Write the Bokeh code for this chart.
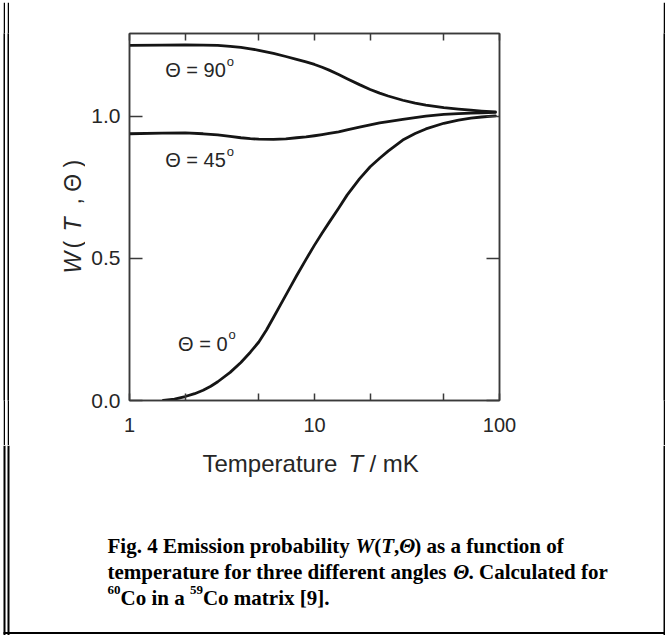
import math
from bokeh.plotting import figure
from bokeh.layouts import column, row
from bokeh.models import Range1d, FixedTicker, LinearAxis, LogAxis, Label
from bokeh.embed import file_html
from bokeh.resources import INLINE

# ---------------- data ----------------
T_common = [1, 1.5, 2, 2.5, 3, 3.5, 4, 4.5, 5, 6, 7, 8, 9, 10, 11, 12, 13.5, 15, 17.5, 20,
            22.5, 25, 30, 35, 40, 50, 60, 70, 80, 95]
W_90 = [1.250, 1.251, 1.252, 1.251, 1.250, 1.247, 1.243, 1.238, 1.233, 1.222, 1.211, 1.201,
        1.192, 1.183, 1.173, 1.163, 1.148, 1.133, 1.112, 1.095, 1.082, 1.072, 1.057, 1.047,
        1.040, 1.031, 1.026, 1.022, 1.019, 1.016]
W_45 = [0.939, 0.941, 0.942, 0.939, 0.935, 0.930, 0.925, 0.922, 0.920, 0.919, 0.921, 0.925,
        0.928, 0.932, 0.936, 0.940, 0.946, 0.953, 0.962, 0.970, 0.977, 0.982, 0.990, 0.996,
        1.001, 1.007, 1.010, 1.012, 1.013, 1.014]
T_0 = [1.52, 1.75, 2, 2.25, 2.5, 2.75, 3, 3.5, 4, 4.5, 5, 5.5, 6, 6.5, 7, 7.5, 8, 9, 10, 11,
       12, 13.5, 15, 17.5, 20, 22.5, 25, 30, 35, 40, 50, 60, 70, 80, 95]
W_0 = [0.000, 0.005, 0.014, 0.024, 0.036, 0.050, 0.066, 0.099, 0.134, 0.170, 0.206, 0.248,
       0.292, 0.333, 0.371, 0.406, 0.439, 0.497, 0.547, 0.590, 0.627, 0.677, 0.723, 0.780,
       0.823, 0.853, 0.878, 0.917, 0.940, 0.956, 0.976, 0.987, 0.994, 0.998, 1.002]

curve_labels = ["90", "45", "0"]
curve_label_pos = [(1.56, 1.162), (1.56, 0.845), (1.83, 0.200)]

x_ticks = [1, 10, 100]
x_minor_ticks = [2, 5, 20, 50]
x_tick_labels = ["1", "10", "100"]
y_ticks = [0.0, 0.5, 1.0]
y_tick_labels = ["0.0", "0.5", "1.0"]

X_MIN, X_MAX = 1, 100
Y_MIN, Y_MAX = 0.0, 1.292

# ---------------- layout (page pixels) ----------------
PW, PH = 665, 635
TOP_H = 2                 # top border strip
MID_BOTTOM = 445          # bottom of the plot row; caption panel below
FL, FR, FT, FB = 129, 499, 33, 400   # plot frame
LEFT_STRIPS = [("white", 3), ("black", 2), ("white", 2), ("black", 2)]   # double line
TEXT_X0, TEXT_X1 = 9, 85  # panel holding the y-axis title
RIGHT_W = 2
SANS = "Liberation Sans"
SERIF = "Liberation Serif"
AX = "#3a3a3a"
TXT = "#262626"
MID_H = MID_BOTTOM - TOP_H


def solid(w, h, color):
    """a figure that is one flat colour (used for the border lines)"""
    f = figure(width=w, height=h, x_range=Range1d(0, 1), y_range=Range1d(0, 1),
               output_backend="svg", toolbar_location=None, min_border=0,
               x_axis_location=None, y_axis_location=None)
    f.xgrid.visible = False
    f.ygrid.visible = False
    f.outline_line_color = None
    f.background_fill_color = color
    f.border_fill_color = color
    return f


def panel(w, h, x0, x1, y_top, y_bot, mb_top=0, mb_bot=0):
    """blank figure, data units = page pixels (y down)"""
    f = figure(width=w, height=h, x_range=Range1d(x0, x1), y_range=Range1d(y_bot, y_top),
               output_backend="svg", toolbar_location=None, min_border=0,
               min_border_top=mb_top, min_border_bottom=mb_bot,
               x_axis_location=None, y_axis_location=None)
    f.xgrid.visible = False
    f.ygrid.visible = False
    f.outline_line_color = None
    f.background_fill_color = "white"
    f.border_fill_color = "white"
    return f


def lab(f, px, py, text, font=SANS, size="23px", style="normal", color=TXT, angle=0.0):
    f.add_layout(Label(x=px, y=py, text=text, text_font=font, text_font_size=size,
                       text_font_style=style, text_color=color, text_align="left",
                       text_baseline="alphabetic", angle=angle))


# --- top border strip ---
top_row = row(*[solid(w, TOP_H, c) for c, w in LEFT_STRIPS],
              solid(PW - sum(w for _, w in LEFT_STRIPS), TOP_H, "black"))

# --- left: double line + y-axis title ---
left_strips = [solid(w, MID_H, c) for c, w in LEFT_STRIPS]
ytitle = panel(TEXT_X1 - TEXT_X0, MID_H, TEXT_X0, TEXT_X1, FT, FB,
               mb_top=FT - TOP_H, mb_bot=MID_BOTTOM - FB)
yl_parts = [("W", "italic", 273), ("(", "normal", 248), ("T", "italic", 231),
            (", \u0398 )", "normal", 204)]
for txt, sty, ypos in yl_parts:
    lab(ytitle, 72, ypos, txt, style=sty, angle=math.pi / 2)

# --- main plot ---
main_w = PW - TEXT_X1 - RIGHT_W
p = figure(width=main_w, height=MID_H, x_axis_type="log",
           x_range=Range1d(X_MIN, X_MAX), y_range=Range1d(Y_MIN, Y_MAX),
           output_backend="svg", toolbar_location=None,
           min_border_left=FL - TEXT_X1, min_border_right=(TEXT_X1 + main_w) - FR,
           min_border_top=FT - TOP_H, min_border_bottom=MID_BOTTOM - FB)
p.xgrid.visible = False
p.ygrid.visible = False
p.outline_line_color = AX
p.outline_line_width = 1.5
p.background_fill_color = "white"
p.border_fill_color = "white"


def style_axis(ax, tick_in, label_size="20px"):
    ax.axis_line_color = AX
    ax.axis_line_width = 1.5
    ax.major_tick_line_color = AX
    ax.major_tick_line_width = 1.5
    ax.minor_tick_line_color = AX
    ax.minor_tick_line_width = 1.5
    ax.major_tick_in = tick_in
    ax.major_tick_out = 0
    ax.minor_tick_in = tick_in
    ax.minor_tick_out = 0
    ax.major_label_text_font = SANS
    ax.major_label_text_font_size = label_size
    ax.major_label_text_color = TXT


bx = p.xaxis[0]
bx.ticker = FixedTicker(ticks=x_ticks, minor_ticks=x_minor_ticks)
bx.major_label_overrides = {t: s for t, s in zip(x_ticks, x_tick_labels)}
style_axis(bx, 7)
bx.major_label_standoff = 17

ly = p.yaxis[0]
ly.ticker = FixedTicker(ticks=y_ticks, minor_ticks=[])
ly.major_label_overrides = {t: s for t, s in zip(y_ticks, y_tick_labels)}
style_axis(ly, 13, "21px")
ly.major_label_standoff = 9

top_ax = LogAxis(ticker=FixedTicker(ticks=x_ticks, minor_ticks=x_minor_ticks),
                 major_label_overrides={t: "" for t in x_ticks})
style_axis(top_ax, 7, "1px")
top_ax.major_label_standoff = 0
p.add_layout(top_ax, "above")

right_ax = LinearAxis(ticker=FixedTicker(ticks=y_ticks, minor_ticks=[]),
                      major_label_overrides={t: "" for t in y_ticks})
style_axis(right_ax, 13, "1px")
p.add_layout(right_ax, "right")

for xs, ys in [(T_common, W_90), (T_common, W_45), (T_0, W_0)]:
    p.line(xs, ys, line_color="#151515", line_width=2.8, line_join="round", line_cap="round")

CL = 20
for deg, (tx, wy) in zip(curve_labels, curve_label_pos):
    p.add_layout(Label(x=tx, y=wy, text="\u0398 = " + deg, text_font=SANS,
                       text_font_size="%dpx" % CL, text_color=TXT, text_align="left",
                       text_baseline="alphabetic"))
    wpx = (0.778 + 0.278 + 0.584 + 0.278 + 0.556 * len(deg)) * CL
    p.add_layout(Label(x=tx, y=wy, x_offset=wpx + 1, y_offset=9, text="o", text_font=SANS,
                       text_font_size="13px", text_color=TXT, text_align="left",
                       text_baseline="alphabetic"))

right_strip = solid(RIGHT_W, MID_H, "black")
mid_row = row(*left_strips, ytitle, p, right_strip)

# --- caption panel (x-axis title + caption + borders) ---
cap = panel(PW, PH - MID_BOTTOM, 0, PW, MID_BOTTOM, PH)
xl = 0
for c, w in LEFT_STRIPS:
    if c == "black":
        cap.quad(left=[xl], right=[xl + w], top=[MID_BOTTOM], bottom=[PH],
                 fill_color="black", line_color=None)
    xl += w
cap.quad(left=[PW - RIGHT_W, 3], right=[PW, PW], top=[MID_BOTTOM, 631.5],
         bottom=[PH, 633.5], fill_color="black", line_color=None)

lab(cap, 202, 463, "Temperature", size="24px")
lab(cap, 348, 463, "T", size="24px", style="italic")
lab(cap, 369, 463, "/ mK", size="24px")

TB = {' ': 250, '(': 333, ')': 333, ',': 250, '.': 250, '4': 500, '5': 500, '6': 500,
      '9': 500, '0': 500, '[': 333, ']': 333, 'C': 722, 'E': 667, 'F': 611, 'a': 500,
      'b': 556, 'c': 444, 'd': 556, 'e': 444, 'f': 333, 'g': 500, 'h': 556, 'i': 278,
      'l': 278, 'm': 833, 'n': 556, 'o': 500, 'p': 556, 'r': 444, 's': 389, 't': 333,
      'u': 556, 'x': 500, 'y': 500, 'W': 889, 'T': 611, '\u0398': 722}


def tw(s, size):
    return sum(TB.get(c, 500) for c in s) * size / 1000.0


cap_size = 21
cap_lines = [
    (545, [("Fig. 4 Emission probability ", "bold", 0), ("W", "bold italic", 0), ("(", "bold", 0),
           ("T", "bold italic", 0), (",", "bold", 0), ("\u0398", "bold italic", 0),
           (") as a function of", "bold", 0)]),
    (571, [("temperature for three different angles ", "bold", 0), ("\u0398", "bold italic", 0),
           (". Calculated for", "bold", 0)]),
    (597, [("60", "bold", 1), ("Co in a ", "bold", 0), ("59", "bold", 1),
           ("Co matrix [9].", "bold", 0)]),
]
for base, parts in cap_lines:
    x = 107
    for txt, sty, sup in parts:
        if sup:
            lab(cap, x, base - 8, txt, font=SERIF, size="13px", style=sty, color="black")
            x += tw(txt, 13)
        else:
            lab(cap, x, base, txt, font=SERIF, size="%dpx" % cap_size, style=sty, color="black")
            x += tw(txt, cap_size)

layout = column(top_row, mid_row, cap)
open("out.html", "w").write(file_html(layout, INLINE))
